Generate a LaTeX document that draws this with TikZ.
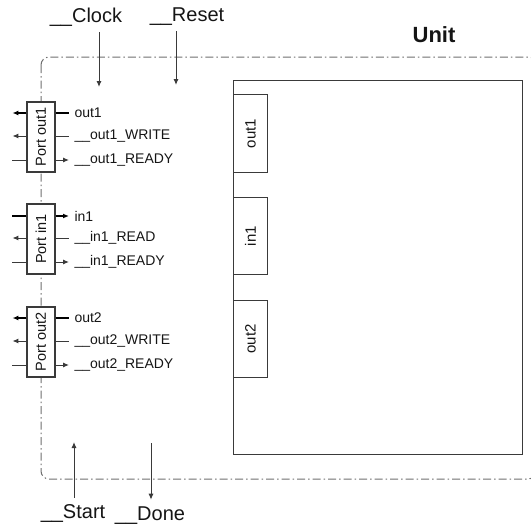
\documentclass[tikz,border=0pt]{standalone}
\usepackage{fontspec}
\setsansfont{Liberation Sans}
\usetikzlibrary{arrows.meta, positioning}
\definecolor{cline}{HTML}{3A3A3A}
\definecolor{cframe}{HTML}{6E6E6E}
\definecolor{ctext}{HTML}{151515}
\tikzset{
  every picture/.style={font=\sffamily, line width=1pt},
  port/.style={draw=cline, fill=white, line width=1.1pt, minimum width=28pt, minimum height=70pt, inner sep=0pt, text=ctext, font=\sffamily\fontsize{14.5}{16}\selectfont},
  slot/.style={draw=cline, line width=1.1pt, minimum width=34pt, inner sep=0pt, anchor=north west, text=ctext, font=\sffamily\fontsize{15}{17}\selectfont},
  sig/.style={anchor=west, inner sep=0pt, text=ctext, font=\sffamily\fontsize{14}{16}\selectfont},
  ext/.style={anchor=base, inner sep=2pt, text=ctext, font=\sffamily\fontsize{20}{22}\selectfont},
  wire/.style={draw=cline, line width=1pt},
  bus/.style={draw=black, line width=2pt},
  into/.style={-{Latex[length=6pt, width=5pt]}},
  frame/.style={draw=cframe, line width=1pt, rounded corners=8pt, dash pattern=on 8pt off 3pt on 1.5pt off 3pt},
}
\begin{document}
\begin{tikzpicture}[x=1pt, y=-1pt]
  \useasboundingbox (0,0) rectangle (531,525);

  % ---- frame of the unit
  \draw[frame] (41,57) rectangle (536,479);
  \node[font=\sffamily\bfseries\fontsize{22}{24}\selectfont, text=ctext] (unit) at (434,35) {Unit};

  \node[draw=cline, line width=1.4pt, minimum width=289pt, minimum height=374pt, inner sep=0pt, anchor=north west] (core) at (233,80) {};
  \node[slot, minimum height=78pt] (s1) at (233,94)  {\rotatebox{90}{out1}};
  \node[slot, minimum height=77pt] (s2) at (233,197) {\rotatebox{90}{in1}};
  \node[slot, minimum height=77pt] (s3) at (233,300) {\rotatebox{90}{out2}};

  % ---- ports
  \node[port] (pout1) at (41,137) {\rotatebox{90}{Port out1}};
  \node[port] (pin1)  at (41,239) {\rotatebox{90}{Port in1}};
  \node[port] (pout2) at (41,342) {\rotatebox{90}{Port out2}};

  \node[sig] (o1)  at (74,113) {out1};
  \node[sig] (o1w) at (74,136) {\_\_out1\_WRITE};
  \node[sig] (o1r) at (74,160) {\_\_out1\_READY};
  \node[sig] (i1)  at (74,216) {in1};
  \node[sig] (i1d) at (74,238) {\_\_in1\_READ};
  \node[sig] (i1r) at (74,262) {\_\_in1\_READY};
  \node[sig] (o2)  at (74,318) {out2};
  \node[sig] (o2w) at (74,341) {\_\_out2\_WRITE};
  \node[sig] (o2r) at (74,365) {\_\_out2\_READY};

  % port out1
  \draw[bus, into]              (pout1.west |- o1) -- ++(-14,0);
  \draw[bus, shorten >=5pt]     (pout1.east |- o1) -- (o1.west);
  \draw[wire, into]             (pout1.west |- o1w) -- ++(-14,0);
  \draw[wire, shorten >=5pt]    (pout1.east |- o1w) -- (o1w.west);
  \draw[wire]                   (pout1.west |- o1r) -- ++(-14,0);
  \draw[wire, into, shorten >=5pt] (pout1.east |- o1r) -- (o1r.west);

  % port in1
  \draw[bus]                    (pin1.west |- i1) -- ++(-14,0);
  \draw[bus, into, shorten >=5pt] (pin1.east |- i1) -- (i1.west);
  \draw[wire, into]             (pin1.west |- i1d) -- ++(-14,0);
  \draw[wire, shorten >=5pt]    (pin1.east |- i1d) -- (i1d.west);
  \draw[wire]                   (pin1.west |- i1r) -- ++(-14,0);
  \draw[wire, into, shorten >=5pt] (pin1.east |- i1r) -- (i1r.west);

  % port out2
  \draw[bus, into]              (pout2.west |- o2) -- ++(-14,0);
  \draw[bus, shorten >=5pt]     (pout2.east |- o2) -- (o2.west);
  \draw[wire, into]             (pout2.west |- o2w) -- ++(-14,0);
  \draw[wire, shorten >=5pt]    (pout2.east |- o2w) -- (o2w.west);
  \draw[wire]                   (pout2.west |- o2r) -- ++(-14,0);
  \draw[wire, into, shorten >=5pt] (pout2.east |- o2r) -- (o2r.west);

  % ---- control signals
  \node[ext] (clk)   at (86,22)  {\_\_Clock};
  \node[ext] (rst)   at (187,21) {\_\_Reset};
  \node[ext] (start) at (73,518) {\_\_Start};
  \node[ext] (done)  at (150,520) {\_\_Done};
  \coordinate (clkin)   at (99,87);
  \coordinate (rstin)   at (176,85);
  \coordinate (startin) at (74,442);
  \coordinate (doneout) at (151,443);

  \draw[wire, into, shorten <=4pt] (clk.south -| clkin) -- (clkin);
  \draw[wire, into, shorten <=4pt] (rst.south -| rstin) -- (rstin);
  \draw[wire, into, shorten <=4pt] (start.north -| startin) -- (startin);
  \draw[wire, into, shorten >=4pt] (doneout) -- (done.north -| doneout);
\end{tikzpicture}
\end{document}
